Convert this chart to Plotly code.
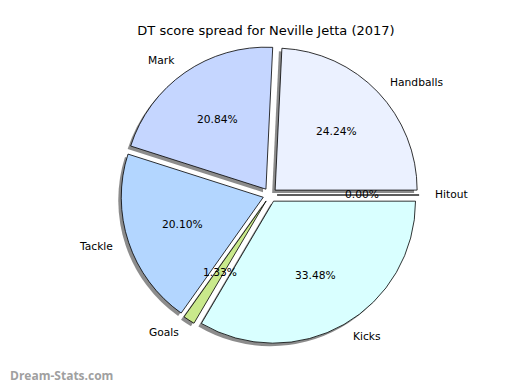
import math
import plotly.graph_objects as go

labels = ["Handballs", "Mark", "Tackle", "Goals", "Kicks", "Hitout"]
values = [24.24, 20.84, 20.10, 1.33, 33.48, 0.00]
colors = ["#ebf1ff", "#c5d6ff", "#b3d6ff", "#c9e98b", "#d9ffff", "#ffffff"]
pull_amt = [0.05, 0.05, 0.05, 0.05, 0.05, 0.05]
title_text = "DT score spread for Neville Jetta (2017)"
watermark = "Dream-Stats.com"

OFF = 8                    # page body margin in the browser
W, H = 512, 382            # figure size so that it fits the 520x390 window
CX, CY = 270, 195          # desired pie centre in screen pixels
R = 142                    # pie radius in pixels
maxpull = max(pull_amt)
half = R * (1 + maxpull)

def px2paper(X, Y):
    return (X - OFF) / W, 1 - (Y - OFF) / H

def dom(cx, cy):
    x0, y1 = px2paper(cx - half, cy - half)
    x1, y0 = px2paper(cx + half, cy + half)
    return dict(x=[x0, x1], y=[y0, y1])

total = sum(values)
# plotly places the first counterclockwise slice ending at the rotation point
rot = 90 - values[0] / total * 360

fig = go.Figure()

# shadow
fig.add_trace(go.Pie(
    labels=labels, values=values, sort=False, direction="counterclockwise",
    rotation=rot, pull=pull_amt, textinfo="none", hoverinfo="skip",
    marker=dict(colors=["rgba(0,0,0,0.45)"] * len(values), line=dict(width=0)),
    domain=dom(CX - 3, CY + 3), showlegend=False,
))
# main pie
fig.add_trace(go.Pie(
    labels=labels, values=values, sort=False, direction="counterclockwise",
    rotation=rot, pull=pull_amt, textinfo="none",
    marker=dict(colors=colors, line=dict(color="black", width=0.8)),
    domain=dom(CX, CY), showlegend=False,
))

# matplotlib-style labels and percentages
annotations = []
cum = 0.0
for lab, v, p in zip(labels, values, pull_amt):
    t1 = cum / total * 360
    cum += v
    t2 = cum / total * 360
    mid = math.radians((t1 + t2) / 2)
    c, s = math.cos(mid), math.sin(mid)
    lx, ly = px2paper(CX + (p + 1.1) * R * c, CY - (p + 1.1) * R * s)
    qx, qy = px2paper(CX + (p + 0.6) * R * c, CY - (p + 0.6) * R * s)
    annotations.append(dict(
        x=lx, y=ly, xref="paper", yref="paper", text=lab,
        showarrow=False, xanchor="left" if c > 0 else "right", yanchor="middle",
        font=dict(family="DejaVu Sans", size=10.7, color="black")))
    annotations.append(dict(
        x=qx, y=qy, xref="paper", yref="paper",
        text="%.2f%%" % (v / total * 100),
        showarrow=False, xanchor="center", yanchor="middle",
        font=dict(family="DejaVu Sans", size=10.7, color="black")))

wx, wy = px2paper(8, 386)
annotations.append(dict(
    x=wx, y=wy, xref="paper", yref="paper", text=watermark, showarrow=False,
    xanchor="left", yanchor="bottom",
    font=dict(family="Open Sans", size=12, color="#a0a0a0", weight="bold")))

tx, ty = px2paper(266, 30)
fig.update_layout(
    width=W, height=H, margin=dict(l=0, r=0, t=0, b=0),
    paper_bgcolor="white", plot_bgcolor="white",
    title=dict(text=title_text, x=tx, xanchor="center",
               y=ty, yanchor="middle", yref="container",
               font=dict(family="DejaVu Sans", size=13, color="black")),
    annotations=annotations,
)

fig.write_html("out.html")
